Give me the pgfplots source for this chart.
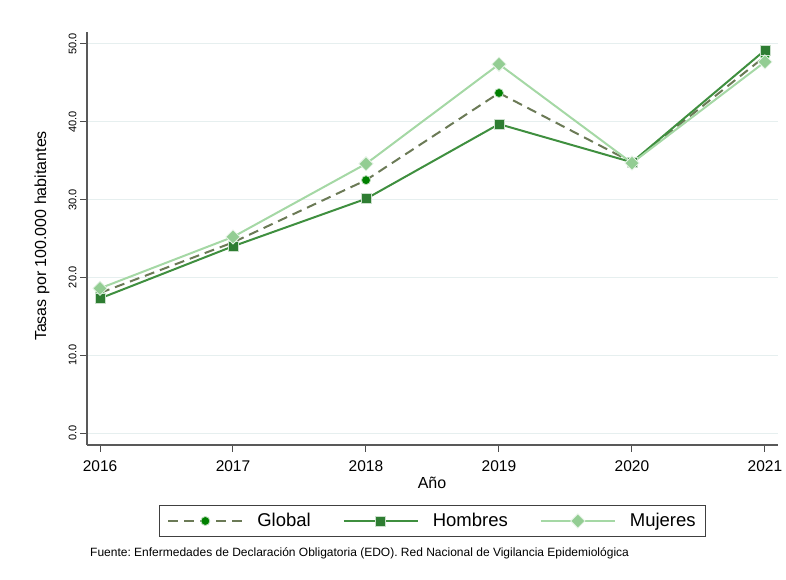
\documentclass[border=0pt]{standalone}
\usepackage{pgfplots}
\pgfplotsset{compat=1.18}
\usepackage{fontspec}
\setmainfont{Liberation Sans}

\definecolor{glob}{HTML}{6B7A56}
\definecolor{globmk}{HTML}{008000}
\definecolor{homb}{HTML}{3F8F3F}
\definecolor{hombmk}{HTML}{2E7D32}
\definecolor{muj}{HTML}{A5D8A5}
\definecolor{mujmk}{HTML}{93CD93}
\definecolor{gridc}{HTML}{E6EFEF}

\begin{document}
\frenchspacing
\begin{tikzpicture}[x=1pt,y=1pt]
\path[use as bounding box] (0,0) rectangle (786,580);
\begin{axis}[
  at={(87pt,135pt)}, anchor=south west,
  scale only axis, width=691pt, height=413pt,
  xmin=2015.902, xmax=2021.098, ymin=-1.54, ymax=51.54,
  axis x line*=bottom, axis y line*=left,
  x axis line style={-, draw=black!65, line width=1.3pt},
  y axis line style={-, draw=black!65, line width=1.3pt},
  xtick={2016,...,2021}, ytick={0,10,...,50},
  tick align=outside, major tick length=7pt,
  tick style={draw=black!70, line width=1pt},
  ymajorgrids, grid style={draw=gridc, line width=1pt},
  /pgf/number format/assume math mode=true,
  xticklabel style={font=\fontsize{15.5}{17}\selectfont, yshift=-5pt, /pgf/number format/1000 sep={}},
  yticklabel style={font=\fontsize{11}{12}\selectfont, rotate=90, anchor=south,
    /pgf/number format/fixed, /pgf/number format/fixed zerofill, /pgf/number format/precision=1},
  xlabel={Año}, ylabel={Tasas por 100.000 habitantes},
  every axis x label/.style={at={(axis description cs:0.4993,-0.092)}, anchor=center, font=\fontsize{16}{18}\selectfont},
  every axis y label/.style={at={(axis description cs:-0.0651,0.506)}, rotate=90, anchor=center, font=\fontsize{16}{18}\selectfont},
  legend columns=3,
  legend style={at={(axis description cs:0.5,-0.184)}, anchor=center,
    draw=black!75, line width=1.2pt, font=\fontsize{18.5}{20}\selectfont,
    inner xsep=8pt, inner ysep=6pt,
    /tikz/every odd column/.append style={column sep=12pt},
    /tikz/every even column/.append style={column sep=30pt}},
  legend cell align=left,
  legend image code/.code={\draw[mark repeat=2,mark phase=2] plot coordinates {(0pt,0pt) (37pt,0pt) (74pt,0pt)};},
]
\addplot[glob, line width=2pt, dash pattern=on 10pt off 6pt, mark=*,
  mark options={solid, fill=globmk, draw=white!75!globmk, line width=0.8pt}, mark size=4.5pt]
  coordinates {(2016,18.0) (2017,24.5) (2018,32.5) (2019,43.7) (2020,34.8) (2021,48.4)};
\addlegendentry{Global}
\addplot[homb, line width=2pt, mark=square*,
  mark options={fill=hombmk, draw=white!75!hombmk, line width=0.8pt}, mark size=5pt]
  coordinates {(2016,17.3) (2017,24.0) (2018,30.1) (2019,39.7) (2020,34.8) (2021,49.2)};
\addlegendentry{Hombres}
\addplot[muj, line width=2pt, mark=square*,
  mark options={rotate=45, fill=mujmk, draw=white!75!mujmk, line width=0.8pt}, mark size=5pt]
  coordinates {(2016,18.6) (2017,25.2) (2018,34.6) (2019,47.4) (2020,34.7) (2021,47.7)};
\addlegendentry{Mujeres}
\end{axis}
\node[anchor=west, font=\fontsize{12}{13}\selectfont, inner sep=0pt] at (90,27)
  {Fuente: Enfermedades de Declaración Obligatoria (EDO). Red Nacional de Vigilancia Epidemiológica};
\end{tikzpicture}
\end{document}
